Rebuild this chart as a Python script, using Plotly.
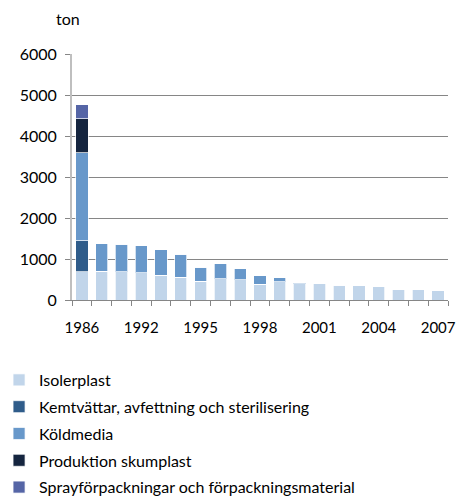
import plotly.graph_objects as go

years = ["1986", "1990", "1991", "1992", "1993", "1994", "1995", "1996", "1997", "1998",
         "1999", "2000", "2001", "2002", "2003", "2004", "2005", "2006", "2007"]
isolerplast = [690, 700, 685, 660, 600, 560, 455, 520, 495, 388,
               443, 393, 395, 358, 344, 320, 262, 246, 238]
kemtvattar = [760, 0, 0, 0, 0, 0, 0, 0, 0, 0, 0, 0, 0, 0, 0, 0, 0, 0, 0]
koldmedia = [2140, 666, 673, 665, 620, 554, 350, 366, 269, 204,
             98, 25, 0, 12, 0, 0, 0, 0, 0]
produktion = [830, 0, 0, 0, 0, 0, 0, 0, 0, 0, 0, 0, 0, 0, 0, 0, 0, 0, 0]
spray = [340, 0, 0, 0, 0, 0, 0, 0, 0, 0, 0, 0, 0, 0, 0, 0, 0, 0, 0]
shown_years = ["1986", "1992", "1995", "1998", "2001", "2004", "2007"]

series = [
    ("Isolerplast", isolerplast, "#C1D5EA"),
    ("Kemtvättar, avfettning och sterilisering", kemtvattar, "#2F5C8A"),
    ("Köldmedia", koldmedia, "#6898CA"),
    ("Produktion skumplast", produktion, "#15253F"),
    ("Sprayförpackningar och förpackningsmaterial", spray, "#5565A6"),
]

FONT = "Lato, 'Open Sans', sans-serif"

fig = go.Figure()
for i, (name, values, color) in enumerate(series):
    fig.add_trace(go.Bar(
        x=years, y=values, name=name, legendgroup=str(i),
        marker=dict(color=color, line=dict(color="rgba(255,255,255,0.7)", width=1)),
    ))

# the page body adds an 8px offset, so the figure is drawn slightly smaller
fig.add_annotation(text="ton", xref="paper", yref="paper", x=-0.01, y=1.146,
                   xanchor="center", yanchor="middle", showarrow=False,
                   font=dict(size=16, color="#000000"))

fig.update_layout(
    width=459, height=489,
    margin=dict(l=64, r=19, t=46, b=197, autoexpand=False),
    barmode="stack", bargap=0.38,
    plot_bgcolor="white", paper_bgcolor="white",
    font=dict(family=FONT, size=16, color="#000000"),
    legend=dict(
        orientation="v", traceorder="grouped", tracegroupgap=3, itemwidth=30,
        x=-0.194, xanchor="left", y=-0.256, yanchor="top",
        font=dict(size=16), itemclick=False,
    ),
    xaxis=dict(
        type="category", tickmode="array", tickvals=years,
        ticktext=[y if y in shown_years else "" for y in years],
        tickangle=0, automargin=False, tickfont=dict(size=15), ticklabelstandoff=14,
        tickson="boundaries", ticks="outside", ticklen=5, tickcolor="#868686",
        showline=True, linecolor="#868686", linewidth=1, showgrid=False,
    ),
    yaxis=dict(
        range=[0, 6000], dtick=1000, showgrid=True, gridcolor="#868686", gridwidth=1,
        automargin=False,
        ticks="outside", ticklen=5, tickcolor="#868686", ticklabelstandoff=5,
        showline=True, linecolor="#BFBFBF", linewidth=2, zeroline=False,
    ),
)

fig.write_html("out.html")
